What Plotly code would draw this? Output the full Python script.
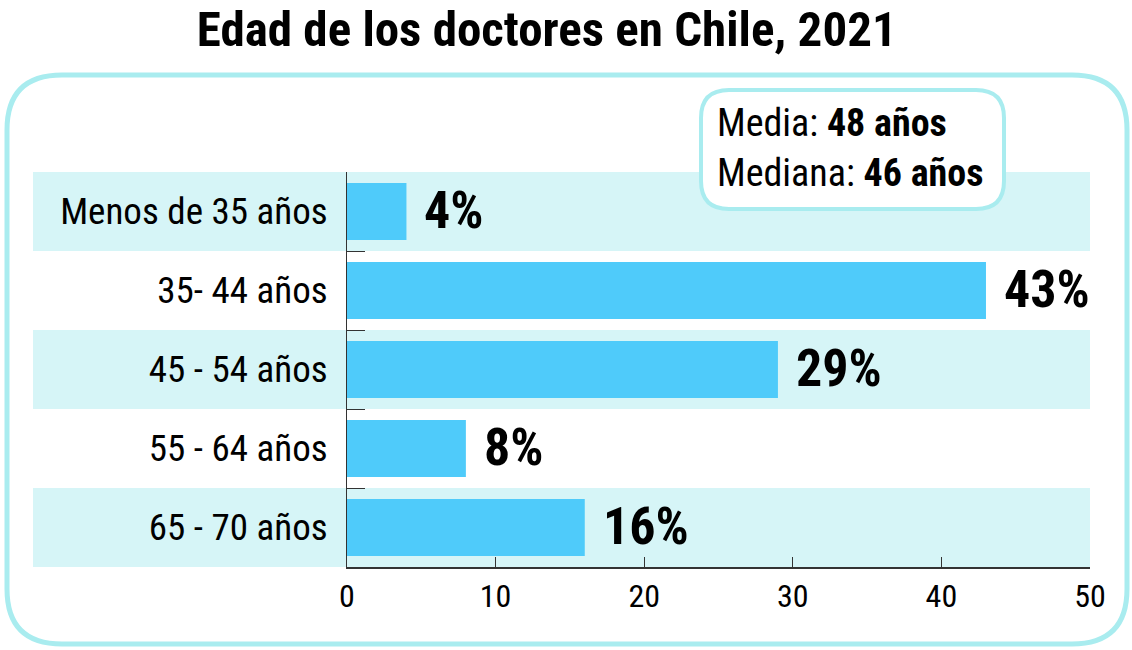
import plotly.graph_objects as go

grupos = ["Menos de 35 años", "35- 44 años", "45 - 54 años", "55 - 64 años", "65 - 70 años"]
porcentajes = [4, 43, 29, 8, 16]
etiquetas = ["4%", "43%", "29%", "8%", "16%"]
ticks_x = [0, 10, 20, 30, 40, 50]
media = "48 años"
mediana = "46 años"

W, H = 1132, 650
L, R, T, B = 347, 42, 172, 83
pw, ph = W - L - R, H - T - B

FONT = "Roboto Condensed, Liberation Sans Narrow, sans-serif"
BAR = "#4FCBFA"
BAND = "#D6F5F7"
EDGE = "#A9ECEF"


def px(x):
    return (x - L) / pw


def py(y):
    return (H - B - y) / ph


def rounded(x0, y0, x1, y1, r):
    # rounded rectangle path in paper coords from pixel corners
    pts = [
        f"M {px(x0 + r)} {py(y0)}",
        f"L {px(x1 - r)} {py(y0)}",
        f"Q {px(x1)} {py(y0)} {px(x1)} {py(y0 + r)}",
        f"L {px(x1)} {py(y1 - r)}",
        f"Q {px(x1)} {py(y1)} {px(x1 - r)} {py(y1)}",
        f"L {px(x0 + r)} {py(y1)}",
        f"Q {px(x0)} {py(y1)} {px(x0)} {py(y1 - r)}",
        f"L {px(x0)} {py(y0 + r)}",
        f"Q {px(x0)} {py(y0)} {px(x0 + r)} {py(y0)}",
        "Z",
    ]
    return " ".join(pts)


fig = go.Figure()
fig.add_trace(go.Bar(
    x=porcentajes, y=grupos, orientation="h",
    marker=dict(color=BAR, line=dict(width=0)),
    hoverinfo="skip",
))

shapes = [
    dict(type="path", xref="paper", yref="paper", path=rounded(7, 75, 1127, 644, 55),
         line=dict(color=EDGE, width=5), layer="below"),
]
for i in range(0, len(grupos), 2):
    shapes.append(dict(type="rect", xref="paper", yref="y", x0=px(33), x1=1,
                       y0=i - 0.5, y1=i + 0.5, fillcolor=BAND, line=dict(width=0),
                       layer="below"))
shapes.append(dict(type="path", xref="paper", yref="paper", path=rounded(701, 90, 1004, 209, 28),
                   fillcolor="white", line=dict(color=EDGE, width=4), layer="below"))

annotations = []
for g, v, t in zip(grupos, porcentajes, etiquetas):
    annotations.append(dict(x=v, y=g, text=f"<b>{t}</b>", showarrow=False, xanchor="left",
                            yanchor="middle", xshift=16, yshift=1,
                            font=dict(family=FONT, size=52, color="black")))
annotations.append(dict(xref="paper", yref="paper", x=px(715), y=py(123), xanchor="left",
                        yanchor="middle", text=f"Media: <b>{media}</b>", showarrow=False,
                        font=dict(family=FONT, size=38, color="black")))
annotations.append(dict(xref="paper", yref="paper", x=px(715), y=py(173), xanchor="left",
                        yanchor="middle", text=f"Mediana: <b>{mediana}</b>", showarrow=False,
                        font=dict(family=FONT, size=38, color="black")))

fig.update_layout(
    width=W, height=H,
    margin=dict(l=L, r=R, t=T, b=B),
    paper_bgcolor="white", plot_bgcolor="rgba(0,0,0,0)",
    title=dict(text="<b>Edad de los doctores en Chile, 2021</b>", x=0.483, xanchor="center",
               y=1 - 29 / H, yanchor="middle", font=dict(family=FONT, size=49, color="black")),
    bargap=0.28,
    showlegend=False,
    shapes=shapes,
    annotations=annotations,
    xaxis=dict(range=[0, 50], tickvals=ticks_x, ticks="inside", ticklen=10, tickcolor="#333",
               showline=True, linecolor="#333", linewidth=1.5, showgrid=False, zeroline=False,
               tickfont=dict(family=FONT, size=32, color="black"), layer="below traces",
               fixedrange=True),
    yaxis=dict(autorange="reversed", tickson="boundaries", ticks="inside", ticklen=18,
               tickcolor="#333", showline=True, linecolor="#333", linewidth=1, showgrid=False,
               tickfont=dict(family=FONT, size=37, color="black"), ticklabelstandoff=11,
               layer="below traces", fixedrange=True),
)

fig.write_html("out.html", config={"displayModeBar": False},
               post_script="document.body.style.margin='0';")
